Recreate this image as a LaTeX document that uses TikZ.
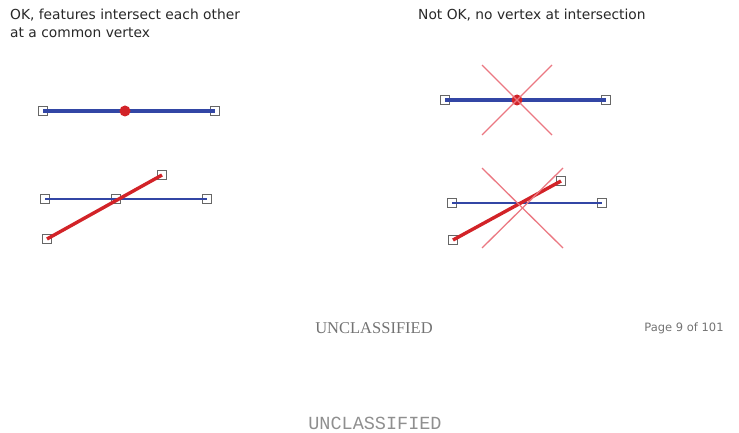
\documentclass[tikz,border=0pt]{standalone}
\usepackage{fontspec}
\setmainfont{Liberation Serif}
\newfontfamily\verdanafont{DejaVu Sans}
\newfontfamily\courierfont{Liberation Mono}
\usetikzlibrary{positioning}
\definecolor{featblue}{RGB}{50,70,165}
\definecolor{featred}{RGB}{210,35,40}
\definecolor{crossred}{RGB}{235,120,130}
\definecolor{footgray}{RGB}{115,115,115}
\definecolor{capgray}{RGB}{40,40,40}

\begin{document}
\begin{tikzpicture}[x=1pt, y=-1pt,
    vtx/.style={rectangle, draw=black!60, line width=1.1pt, minimum size=9pt, inner sep=0pt},
    dot/.style={circle, fill=featred, minimum size=11pt, inner sep=0pt},
    blueline/.style={featblue, line width=3.4pt},
    thinblue/.style={featblue, line width=2.4pt},
    redline/.style={featred, line width=3.4pt},
    cross/.style={crossred, line width=1.3pt},
    caption/.style={capgray, font=\verdanafont\fontsize{13.8}{18}\selectfont, align=left, anchor=north west, inner sep=0pt},
]
\useasboundingbox (0,0) rectangle (739,433);

% Captions
\node[caption] (okcap) at (10,9) {OK, features intersect each other\\at a common vertex};
\node[caption] (notcap) at (418,9) {Not OK, no vertex at intersection};

% OK, top
\node[vtx] (a1) at (43,111) {};
\node[vtx] (a2) at (215,111) {};
\draw[blueline] (a1.center) -- (a2.center);
\node[dot] (a3) at (125,111) {};

% OK, bottom
\node[vtx] (b1) at (45,199) {};
\node[vtx] (b2) at (207,199) {};
\node[vtx] (b3) at (116,199) {};
\node[vtx] (b4) at (47,239) {};
\node[vtx] (b5) at (162,175) {};
\draw[thinblue] (b1.center) -- (b2.center);
\draw[redline] (b4.center) -- (b5.center);

% Not OK, top
\node[vtx] (c1) at (445,100) {};
\node[vtx] (c2) at (606,100) {};
\draw[blueline] (c1.center) -- (c2.center);
\node[dot] (c3) at (517,100) {};
\coordinate (cx1) at (482,65);
\coordinate (cx2) at (552,135);
\coordinate (cx3) at (552,65);
\coordinate (cx4) at (482,135);
\draw[cross] (cx1) -- (cx2);
\draw[cross] (cx3) -- (cx4);

% Not OK, bottom
\node[vtx] (d1) at (452,203) {};
\node[vtx] (d2) at (602,203) {};
\node[vtx] (d3) at (453,240) {};
\node[vtx] (d4) at (561,181) {};
\draw[thinblue] (d1.center) -- (d2.center);
\draw[redline] (d3.center) -- (d4.center);
\coordinate (dx1) at (482,168);
\coordinate (dx2) at (563,248);
\coordinate (dx3) at (563,168);
\coordinate (dx4) at (482,248);
\draw[cross] (dx1) -- (dx2);
\draw[cross] (dx3) -- (dx4);

% Footer
\node[footgray, font=\fontsize{16.5}{19}\selectfont] (uncl) at (374,328) {UNCLASSIFIED};
\node[footgray, font=\verdanafont\fontsize{11.5}{13}\selectfont] (page) at (684,328) {Page 9 of 101};
\node[footgray!80, font=\courierfont\fontsize{18.5}{20}\selectfont, inner sep=1pt] (uncl2) at (375,423) {UNCLASSIFIED};
\end{tikzpicture}
\end{document}
